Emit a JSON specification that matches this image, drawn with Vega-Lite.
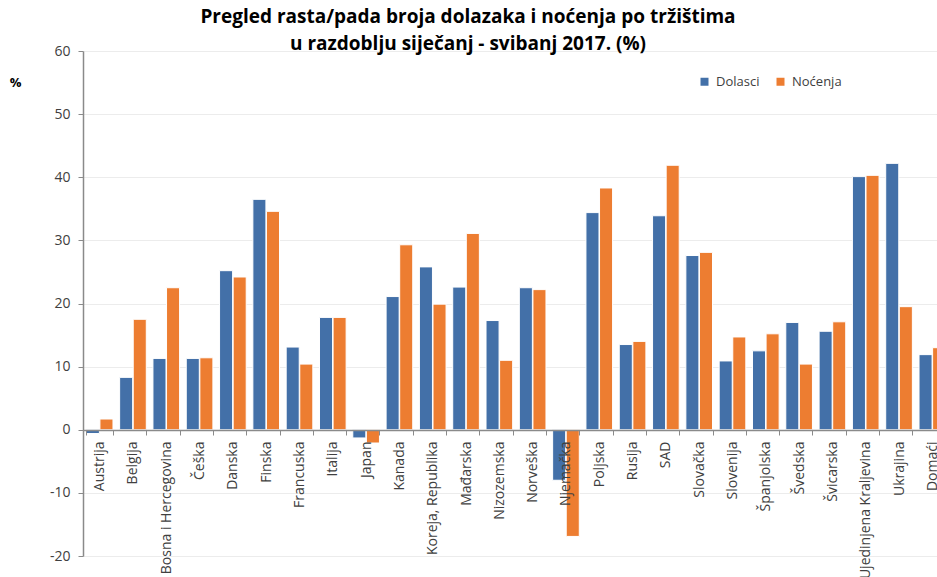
{
  "$schema": "https://vega.github.io/schema/vega-lite/v6.json",
  "autosize": {"type": "none"},
  "width": 854,
  "height": 505,
  "padding": {"left": 83, "top": 51, "right": 0, "bottom": 21},
  "background": "white",
  "title": {
    "text": ["Pregled rasta/pada broja dolazaka i noćenja po tržištima", "u razdoblju siječanj - svibanj 2017. (%)"],
    "font": "Open Sans",
    "fontSize": 19,
    "fontWeight": "bold",
    "color": "#000000",
    "anchor": "middle",
    "frame": "group",
    "dx": -42,
    "offset": -10,
    "lineHeight": 27
  },
  "data": {
    "values": [
      {"zemlja": "Austrija", "serija": "Dolasci", "v": -0.6},
      {"zemlja": "Austrija", "serija": "Noćenja", "v": 1.7},
      {"zemlja": "Belgija", "serija": "Dolasci", "v": 8.3},
      {"zemlja": "Belgija", "serija": "Noćenja", "v": 17.5},
      {"zemlja": "Bosna i Hercegovina", "serija": "Dolasci", "v": 11.3},
      {"zemlja": "Bosna i Hercegovina", "serija": "Noćenja", "v": 22.5},
      {"zemlja": "Češka", "serija": "Dolasci", "v": 11.3},
      {"zemlja": "Češka", "serija": "Noćenja", "v": 11.4},
      {"zemlja": "Danska", "serija": "Dolasci", "v": 25.2},
      {"zemlja": "Danska", "serija": "Noćenja", "v": 24.2},
      {"zemlja": "Finska", "serija": "Dolasci", "v": 36.5},
      {"zemlja": "Finska", "serija": "Noćenja", "v": 34.6},
      {"zemlja": "Francuska", "serija": "Dolasci", "v": 13.1},
      {"zemlja": "Francuska", "serija": "Noćenja", "v": 10.4},
      {"zemlja": "Italija", "serija": "Dolasci", "v": 17.8},
      {"zemlja": "Italija", "serija": "Noćenja", "v": 17.8},
      {"zemlja": "Japan", "serija": "Dolasci", "v": -1.3},
      {"zemlja": "Japan", "serija": "Noćenja", "v": -2.1},
      {"zemlja": "Kanada", "serija": "Dolasci", "v": 21.1},
      {"zemlja": "Kanada", "serija": "Noćenja", "v": 29.3},
      {"zemlja": "Koreja, Republika", "serija": "Dolasci", "v": 25.8},
      {"zemlja": "Koreja, Republika", "serija": "Noćenja", "v": 19.9},
      {"zemlja": "Mađarska", "serija": "Dolasci", "v": 22.6},
      {"zemlja": "Mađarska", "serija": "Noćenja", "v": 31.1},
      {"zemlja": "Nizozemska", "serija": "Dolasci", "v": 17.3},
      {"zemlja": "Nizozemska", "serija": "Noćenja", "v": 11.0},
      {"zemlja": "Norveška", "serija": "Dolasci", "v": 22.5},
      {"zemlja": "Norveška", "serija": "Noćenja", "v": 22.2},
      {"zemlja": "Njemačka", "serija": "Dolasci", "v": -8.0},
      {"zemlja": "Njemačka", "serija": "Noćenja", "v": -16.9},
      {"zemlja": "Poljska", "serija": "Dolasci", "v": 34.4},
      {"zemlja": "Poljska", "serija": "Noćenja", "v": 38.3},
      {"zemlja": "Rusija", "serija": "Dolasci", "v": 13.5},
      {"zemlja": "Rusija", "serija": "Noćenja", "v": 14.0},
      {"zemlja": "SAD", "serija": "Dolasci", "v": 33.9},
      {"zemlja": "SAD", "serija": "Noćenja", "v": 41.9},
      {"zemlja": "Slovačka", "serija": "Dolasci", "v": 27.6},
      {"zemlja": "Slovačka", "serija": "Noćenja", "v": 28.1},
      {"zemlja": "Slovenija", "serija": "Dolasci", "v": 10.9},
      {"zemlja": "Slovenija", "serija": "Noćenja", "v": 14.7},
      {"zemlja": "Španjolska", "serija": "Dolasci", "v": 12.5},
      {"zemlja": "Španjolska", "serija": "Noćenja", "v": 15.2},
      {"zemlja": "Švedska", "serija": "Dolasci", "v": 17.0},
      {"zemlja": "Švedska", "serija": "Noćenja", "v": 10.4},
      {"zemlja": "Švicarska", "serija": "Dolasci", "v": 15.6},
      {"zemlja": "Švicarska", "serija": "Noćenja", "v": 17.1},
      {"zemlja": "Ujedinjena Kraljevina", "serija": "Dolasci", "v": 40.1},
      {"zemlja": "Ujedinjena Kraljevina", "serija": "Noćenja", "v": 40.3},
      {"zemlja": "Ukrajina", "serija": "Dolasci", "v": 42.2},
      {"zemlja": "Ukrajina", "serija": "Noćenja", "v": 19.5},
      {"zemlja": "Domaći", "serija": "Dolasci", "v": 11.9},
      {"zemlja": "Domaći", "serija": "Noćenja", "v": 13.0}
    ]
  },
  "mark": {"type": "bar", "stroke": "white", "strokeWidth": 1},
  "encoding": {
    "x": {
      "field": "zemlja",
      "type": "nominal",
      "sort": null,
      "scale": {"range": [0, 866], "paddingInner": 0.2, "paddingOuter": 0.1},
      "axis": {
        "title": null,
        "offset": -126,
        "zindex": 1,
        "labelAngle": -90,
        "labelFont": "Open Sans",
        "labelFontSize": 14,
        "labelColor": "#404040",
        "labelPadding": 6,
        "labelOverlap": false,
        "tickBand": "extent",
        "tickSize": 5,
        "tickColor": "#8a8a8a",
        "domainColor": "#8a8a8a",
        "domainWidth": 1.5,
        "grid": false
      }
    },
    "xOffset": {"field": "serija", "type": "nominal", "scale": {"paddingInner": 0.04}},
    "y": {
      "field": "v",
      "type": "quantitative",
      "scale": {"domain": [-20, 60], "nice": false, "zero": false},
      "axis": {
        "title": "%",
        "titleAngle": 0,
        "titleX": -68,
        "titleY": 38,
        "titleFont": "Open Sans",
        "titleFontSize": 13,
        "titleFontWeight": "bold",
        "titleColor": "#000000",
        "values": [-20, -10, 0, 10, 20, 30, 40, 50, 60],
        "labelExpr": "replace(datum.label, '−', '-')",
        "labelFont": "Open Sans",
        "labelFontSize": 14,
        "labelColor": "#404040",
        "labelPadding": 8,
        "tickSize": 5,
        "tickColor": "#8a8a8a",
        "domainColor": "#8a8a8a",
        "domainWidth": 1.5,
        "gridColor": "#ececec",
        "gridWidth": 1
      }
    },
    "color": {
      "field": "serija",
      "type": "nominal",
      "scale": {"domain": ["Dolasci", "Noćenja"], "range": ["#4370a8", "#ed7d31"]},
      "legend": {
        "title": null,
        "orient": "none",
        "direction": "horizontal",
        "legendX": 615,
        "legendY": 24,
        "symbolType": "square",
        "symbolSize": 64,
        "symbolStrokeWidth": 0,
        "labelFont": "Open Sans",
        "labelFontSize": 13,
        "labelColor": "#404040",
        "columnPadding": 14,
        "labelOffset": 5
      }
    }
  },
  "config": {"view": {"stroke": null}}
}
